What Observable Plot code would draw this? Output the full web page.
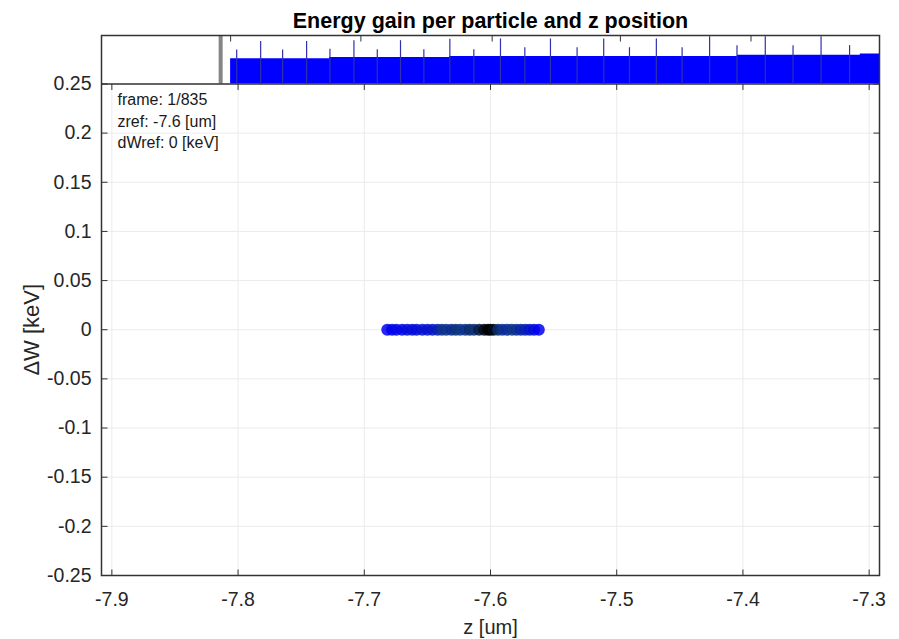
<!DOCTYPE html>
<html><head><meta charset="utf-8">
<script src="https://cdn.jsdelivr.net/npm/d3@7"></script>
<script src="https://cdn.jsdelivr.net/npm/@observablehq/plot@0.6"></script>
<style>
body{margin:0;background:#fff;}
#chart svg{display:block;}
</style></head><body><div id="chart"></div>
<script>
// ---- texts ----
const titleText = "Energy gain per particle and z position";
const xLabel = "z [um]";
const yLabel = "ΔW [keV]";
const infoLines = ["frame: 1/835", "zref: -7.6 [um]", "dWref: 0 [keV]"];

// ---- axes ----
const xDomain = [-7.9082, -7.2918];
const yDomain = [-0.25, 0.2993];
const bandBase = 0.25;
const xTicks = [-7.9, -7.8, -7.7, -7.6, -7.5, -7.4, -7.3];
const yTicks = [-0.25, -0.2, -0.15, -0.1, -0.05, 0, 0.05, 0.1, 0.15, 0.2, 0.25];
const topBandTicks = [-7.8059, -7.7027, -7.5987, -7.4971, -7.3936];

// ---- top band (particle histogram) ----
const windowEdgeZ = -7.8138;
const histZ = [-7.8059, -7.7275, -7.6325, -7.4044, -7.3070, -7.2918];
const histLevel = [0.2756, 0.2768, 0.2780, 0.2792, 0.2806, 0.2806];
const spikeZ = [-7.8011, -7.7821, -7.7647, -7.7457, -7.7272, -7.7082, -7.6897, -7.6713, -7.6528,
  -7.6322, -7.6132, -7.5921, -7.5728, -7.5525, -7.5314, -7.5103, -7.4899, -7.4686, -7.4482,
  -7.4264, -7.4047, -7.3823, -7.3603, -7.3381, -7.3155];
const spikeTop = [0.2846, 0.2933, 0.2846, 0.2933, 0.2852, 0.2940, 0.2849, 0.2940, 0.2849,
  0.2954, 0.2849, 0.2958, 0.2869, 0.2958, 0.2869, 0.2958, 0.2869, 0.2958, 0.2869,
  0.2981, 0.2890, 0.2981, 0.2890, 0.2981, 0.2890];

// ---- particles ----
const particleZ = [-7.6818, -7.6780, -7.6745, -7.6700, -7.6660, -7.6620, -7.6585, -7.6540, -7.6500,
  -7.6460, -7.6420, -7.6385, -7.6350, -7.6310, -7.6275, -7.6240, -7.6200, -7.6165, -7.6130,
  -7.6090, -7.6050, -7.6020, -7.6000, -7.5975, -7.5940, -7.5905, -7.5870, -7.5830, -7.5795,
  -7.5760, -7.5725, -7.5690, -7.5655, -7.5617];
const particleDW = [0, 0, 0, 0, 0, 0, 0, 0, 0, 0, 0, 0, 0, 0, 0, 0, 0, 0, 0, 0, 0, 0, 0, 0, 0, 0, 0, 0, 0, 0, 0, 0, 0, 0];
const particleShade = [0, 0.02, 0.05, 0.05, 0.1, 0.12, 0.1, 0.15, 0.15, 0.2, 0.25, 0.45, 0.5, 0.4,
  0.55, 0.5, 0.45, 0.6, 0.55, 0.75, 0.9, 1, 1, 0.9, 0.6, 0.45, 0.4, 0.5, 0.45, 0.35, 0.3, 0.2, 0.1, 0];

const hist = histZ.map((z, i) => ({z, level: histLevel[i]}));
const spikes = spikeZ.map((z, i) => ({z, top: spikeTop[i]}));
const particles = particleZ.map((z, i) => ({z, dW: particleDW[i], shade: particleShade[i]}));

const tickShape = {draw(context, l) { context.moveTo(0, 0); context.lineTo(0, -l); }};
const axisColor = "#333333";
const tickOpts = {length: 6, anchor: "start", shape: tickShape, stroke: axisColor, strokeWidth: 1, strokeLinecap: "butt"};

const chart = Plot.plot({
  width: 899,
  height: 639,
  marginTop: 35,
  marginBottom: 64,
  marginLeft: 101,
  marginRight: 20,
  style: {fontFamily: "'Liberation Sans', Arial, Helvetica, sans-serif", fontSize: "19px", color: "#262626", background: "#fff"},
  x: {domain: xDomain},
  y: {domain: yDomain},
  color: {type: "linear", domain: [0, 0.5, 1], range: ["#0000f0", "#0b3584", "#000000"]},
  marks: [
    Plot.ruleX(xTicks, {x: d => d, y1: -0.25, y2: bandBase, stroke: "#ebebeb", strokeWidth: 1}),
    Plot.ruleY(yTicks, {y: d => d, stroke: "#ebebeb", strokeWidth: 1}),
    Plot.dot(particles, {x: "z", y: "dW", r: 6, fill: "shade", fillOpacity: 0.85, stroke: "none"}),
    Plot.areaY(hist, {x: "z", y1: bandBase, y2: "level", curve: "step-after", fill: "#0000ff"}),
    Plot.ruleX(spikes, {x: "z", y1: bandBase, y2: "top", stroke: "#3030b0", strokeWidth: 1.2}),
    Plot.ruleX([windowEdgeZ], {x: d => d, y1: bandBase, y2: yDomain[1], stroke: "#858585", strokeWidth: 4}),
    Plot.vector(xTicks, {x: d => d, y: -0.25, rotate: 0, ...tickOpts}),
    Plot.vector(xTicks, {x: d => d, y: bandBase, rotate: 180, ...tickOpts}),
    Plot.vector(yTicks, {x: xDomain[0], y: d => d, rotate: 90, ...tickOpts}),
    Plot.vector(yTicks, {x: xDomain[1], y: d => d, rotate: -90, ...tickOpts}),
    Plot.vector(topBandTicks, {x: d => d, y: yDomain[1], rotate: 180, ...tickOpts}),
    Plot.ruleY([bandBase], {y: d => d, stroke: axisColor, strokeWidth: 1.5}),
    Plot.frame({stroke: axisColor, strokeWidth: 1.5}),
    Plot.axisX(xTicks, {tickSize: 0, tickPadding: 17, tickFormat: d => String(d), label: null, fontSize: 19.5, fill: "#262626"}),
    Plot.axisY(yTicks, {tickSize: 0, tickPadding: 10, tickFormat: d => String(d), label: null, fontSize: 19.5, fill: "#262626"}),
    Plot.text([infoLines.join("\n")], {x: xDomain[0], y: bandBase, dx: 16, dy: 6, textAnchor: "start", lineAnchor: "top", lineHeight: 1.34, fontSize: 16, fill: "#1a1a1a", stroke: "white", strokeWidth: 3, paintOrder: "stroke"}),
    Plot.text([titleText], {frameAnchor: "top", dy: -8, lineAnchor: "bottom", fontSize: 21.5, fontWeight: "bold", fill: "#000"}),
    Plot.text([xLabel], {frameAnchor: "bottom", dy: 58, lineAnchor: "bottom", fontSize: 20, fill: "#262626"}),
    Plot.text([yLabel], {x: xDomain[0], y: 0, dx: -63, rotate: -90, lineAnchor: "bottom", fontSize: 22, fill: "#262626"})
  ]
});
document.getElementById("chart").appendChild(chart);
</script>
</body></html>
